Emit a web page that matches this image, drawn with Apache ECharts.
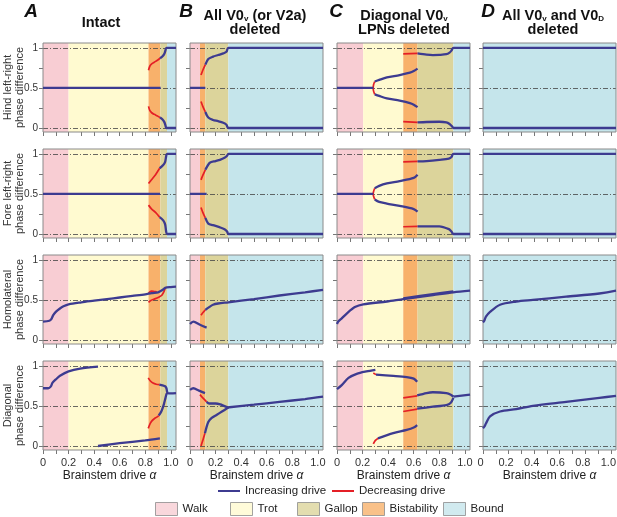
<!DOCTYPE html>
<html>
<head>
<meta charset="utf-8">
<script src="https://cdn.jsdelivr.net/npm/echarts@6/dist/echarts.min.js"></script>
<style>
  html, body { margin: 0; padding: 0; background: #fff; }
  #chart { width: 617px; height: 517px; }
</style>
</head>
<body>
<div id="chart"></div>
<script>
// axis ticks / labels
const xTicks = [0, 0.1, 0.2, 0.3, 0.4, 0.5, 0.6, 0.7, 0.8, 0.9, 1.0];
const xLabels = [0, 0.2, 0.4, 0.6, 0.8, 1.0];
const yTicks = [0, 0.25, 0.5, 0.75, 1];
const yLabels = [0, 0.5, 1];
const refLines = [0, 0.5, 1];

// gait regions
const gaitNames = ['Walk', 'Trot', 'Gallop', 'Bistability', 'Bound'];
const gaitColors = ['#f8cdd3', '#fffad0', '#dcd49b', '#f8b16b', '#c5e5eb'];

const bandsIntact = [['Walk', 0, 0.2], ['Trot', 0.2, 0.825], ['Bistability', 0.825, 0.918], ['Gallop', 0.918, 0.97], ['Bound', 0.97, 1.04]];
const bandsV0 = [['Walk', 0, 0.078], ['Bistability', 0.078, 0.12], ['Gallop', 0.12, 0.30], ['Bound', 0.30, 1.04]];
const bandsDiag = [['Walk', 0, 0.205], ['Trot', 0.205, 0.518], ['Bistability', 0.518, 0.63], ['Gallop', 0.63, 0.91], ['Bound', 0.91, 1.04]];
const bandsAll = [['Bound', 0, 1.04]];

// A: intact
const intactHindBlue = [
  [[0, 0.5], [0.92, 0.5]],
  [[0.915, 0.87], [0.935, 0.895], [0.95, 0.93], [0.958, 0.97], [0.965, 1.0], [1.04, 1.0]],
  [[0.915, 0.13], [0.935, 0.105], [0.95, 0.07], [0.958, 0.03], [0.965, 0.0], [1.04, 0.0]]
];
const intactHindRed = [
  [[0.825, 0.72], [0.835, 0.77], [0.85, 0.8], [0.87, 0.82], [0.895, 0.845], [0.915, 0.87]],
  [[0.825, 0.27], [0.835, 0.22], [0.85, 0.19], [0.87, 0.17], [0.895, 0.15], [0.915, 0.13]]
];
const intactForeBlue = [
  [[0, 0.5], [0.915, 0.5]],
  [[0.912, 0.82], [0.94, 0.86], [0.955, 0.9], [0.963, 0.97], [0.97, 1.0], [1.04, 1.0]],
  [[0.912, 0.21], [0.94, 0.17], [0.955, 0.12], [0.963, 0.03], [0.97, 0.0], [1.04, 0.0]]
];
const intactForeRed = [
  [[0.825, 0.63], [0.85, 0.68], [0.88, 0.74], [0.912, 0.82]],
  [[0.825, 0.36], [0.85, 0.31], [0.88, 0.27], [0.912, 0.21]]
];
const intactHomoBlue = [
  [[0, 0.23], [0.05, 0.24], [0.065, 0.26], [0.08, 0.31], [0.1, 0.35], [0.13, 0.39], [0.16, 0.42], [0.2, 0.445],
   [0.3, 0.47], [0.4, 0.49], [0.5, 0.51], [0.6, 0.53], [0.7, 0.55], [0.8, 0.57], [0.85, 0.585], [0.9, 0.595],
   [0.92, 0.61], [0.94, 0.63], [0.955, 0.65], [1.0, 0.66], [1.04, 0.665]]
];
const intactHomoRed = [
  [[0.825, 0.47], [0.84, 0.49], [0.87, 0.51], [0.9, 0.53], [0.93, 0.56], [0.945, 0.6], [0.955, 0.645]],
  [[0.825, 0.58], [0.835, 0.6], [0.85, 0.61], [0.87, 0.605], [0.89, 0.6]]
];
const intactDiagBlue = [
  [[0, 0.72], [0.04, 0.72], [0.06, 0.74], [0.075, 0.79], [0.1, 0.83], [0.133, 0.875], [0.2, 0.93], [0.29, 0.965], [0.43, 0.99]],
  [[0.43, 0.0], [0.6, 0.035], [0.8, 0.07], [0.914, 0.095]],
  [[0.91, 0.765], [0.935, 0.755], [0.955, 0.745], [0.965, 0.72], [0.97, 0.68], [0.975, 0.66], [1.0, 0.655], [1.04, 0.66]],
  [[0.905, 0.38], [0.925, 0.43], [0.945, 0.52], [0.958, 0.6], [0.966, 0.65], [0.972, 0.66]]
];
const intactDiagRed = [
  [[0.823, 0.85], [0.84, 0.81], [0.86, 0.785], [0.885, 0.77], [0.91, 0.765]],
  [[0.823, 0.22], [0.835, 0.27], [0.85, 0.31], [0.87, 0.34], [0.89, 0.36], [0.905, 0.38]]
];

// B: all V0v (or V2a) deleted
const v0HindBlue = [
  [[0, 0.5], [0.12, 0.5]],
  [[0.12, 0.79], [0.143, 0.86], [0.18, 0.89], [0.22, 0.91], [0.26, 0.93], [0.285, 0.95], [0.30, 1.0], [1.04, 1.0]],
  [[0.12, 0.2], [0.143, 0.13], [0.18, 0.1], [0.22, 0.085], [0.26, 0.065], [0.285, 0.04], [0.30, 0.0], [1.04, 0.0]]
];
const v0HindRed = [
  [[0.086, 0.66], [0.1, 0.72], [0.12, 0.79]],
  [[0.086, 0.33], [0.1, 0.27], [0.12, 0.2]]
];
const v0ForeBlue = [
  [[0, 0.5], [0.13, 0.5]],
  [[0.12, 0.8], [0.156, 0.89], [0.2, 0.91], [0.234, 0.925], [0.27, 0.95], [0.29, 0.975], [0.30, 1.0], [1.04, 1.0]],
  [[0.12, 0.2], [0.143, 0.13], [0.18, 0.11], [0.23, 0.085], [0.27, 0.06], [0.29, 0.03], [0.30, 0.0], [1.04, 0.0]]
];
const v0ForeRed = [
  [[0.086, 0.675], [0.1, 0.73], [0.12, 0.8]],
  [[0.086, 0.33], [0.1, 0.27], [0.12, 0.2]]
];
const v0HomoBlue = [
  [[0, 0.2], [0.026, 0.23], [0.078, 0.19], [0.13, 0.155]],
  [[0.12, 0.375], [0.15, 0.41], [0.18, 0.44], [0.22, 0.455], [0.3, 0.47], [0.5, 0.51], [0.7, 0.555], [0.9, 0.595], [1.04, 0.625]]
];
const v0HomoRed = [
  [[0.086, 0.31], [0.1, 0.34], [0.12, 0.375]]
];
const v0DiagBlue = [
  [[0, 0.7], [0.026, 0.72], [0.07, 0.69], [0.117, 0.66]],
  [[0.13, 0.55], [0.15, 0.53], [0.2, 0.53], [0.237, 0.52], [0.265, 0.5], [0.29, 0.485]],
  [[0.117, 0.16], [0.143, 0.3], [0.17, 0.35], [0.21, 0.39], [0.25, 0.43], [0.29, 0.47], [0.30, 0.48]],
  [[0.29, 0.48], [0.5, 0.515], [0.7, 0.55], [0.9, 0.585], [1.04, 0.615]]
];
const v0DiagRed = [
  [[0.078, 0.64], [0.1, 0.6], [0.13, 0.55]],
  [[0.086, 0.0], [0.1, 0.07], [0.117, 0.16]]
];

// C: diagonal V0v LPNs deleted
const diagHindBlue = [
  [[0, 0.5], [0.284, 0.5]],
  [[0.295, 0.58], [0.33, 0.6], [0.39, 0.63], [0.49, 0.66], [0.57, 0.69], [0.6, 0.71], [0.63, 0.74]],
  [[0.295, 0.42], [0.33, 0.4], [0.39, 0.37], [0.49, 0.34], [0.57, 0.31], [0.6, 0.29], [0.63, 0.26]],
  [[0.63, 0.93], [0.7, 0.915], [0.75, 0.91], [0.8, 0.912], [0.855, 0.92], [0.88, 0.94], [0.895, 0.965], [0.91, 1.0], [1.04, 1.0]],
  [[0.63, 0.07], [0.7, 0.075], [0.8, 0.078], [0.855, 0.07], [0.88, 0.05], [0.9, 0.02], [0.91, 0.0], [1.04, 0.0]]
];
const diagHindRed = [
  [[0.295, 0.58], [0.286, 0.54], [0.283, 0.5], [0.286, 0.46], [0.295, 0.42]],
  [[0.518, 0.925], [0.63, 0.93]],
  [[0.518, 0.08], [0.63, 0.07]]
];
const diagForeBlue = [
  [[0, 0.5], [0.284, 0.5]],
  [[0.295, 0.57], [0.33, 0.6], [0.39, 0.63], [0.49, 0.66], [0.6, 0.7], [0.63, 0.74]],
  [[0.295, 0.43], [0.33, 0.4], [0.39, 0.38], [0.49, 0.35], [0.6, 0.31], [0.63, 0.28]],
  [[0.63, 0.905], [0.7, 0.91], [0.8, 0.925], [0.875, 0.94], [0.895, 0.96], [0.91, 1.0], [1.04, 1.0]],
  [[0.63, 0.095], [0.8, 0.095], [0.875, 0.06], [0.895, 0.03], [0.91, 0.0], [1.04, 0.0]]
];
const diagForeRed = [
  [[0.295, 0.57], [0.286, 0.53], [0.283, 0.5], [0.286, 0.47], [0.295, 0.43]],
  [[0.518, 0.9], [0.63, 0.905]],
  [[0.518, 0.09], [0.63, 0.095]]
];
const diagHomoBlue = [
  [[0, 0.2], [0.01, 0.23], [0.037, 0.27], [0.076, 0.33], [0.14, 0.41], [0.205, 0.445], [0.39, 0.48], [0.518, 0.51],
   [0.75, 0.56], [0.91, 0.595], [1.04, 0.615]],
  [[0.518, 0.518], [0.75, 0.572], [0.91, 0.607]]
];
const diagHomoRed = [];
const diagDiagBlue = [
  [[0, 0.71], [0.037, 0.76], [0.09, 0.85], [0.154, 0.9], [0.23, 0.93], [0.3, 0.95]],
  [[0.305, 0.89], [0.44, 0.875], [0.545, 0.86], [0.6, 0.84], [0.627, 0.8]],
  [[0.32, 0.096], [0.44, 0.16], [0.545, 0.2], [0.6, 0.23], [0.627, 0.26]],
  [[0.627, 0.63], [0.7, 0.66], [0.75, 0.67], [0.855, 0.66], [0.89, 0.64], [0.91, 0.615]],
  [[0.627, 0.465], [0.75, 0.49], [0.855, 0.51], [0.89, 0.54], [0.91, 0.6]],
  [[0.91, 0.615], [1.04, 0.64]]
];
const diagDiagRed = [
  [[0.284, 0.91], [0.305, 0.89]],
  [[0.284, 0.025], [0.3, 0.07], [0.32, 0.096]],
  [[0.518, 0.6], [0.627, 0.625]],
  [[0.518, 0.43], [0.627, 0.46]]
];

// D: all V0v and V0d deleted
const allHindBlue = [[[0, 1], [1.04, 1]], [[0, 0], [1.04, 0]]];
const allForeBlue = [[[0, 1], [1.04, 1]], [[0, 0], [1.04, 0]]];
const allHomoBlue = [
  [[0, 0.22], [0.01, 0.24], [0.023, 0.29], [0.055, 0.35], [0.133, 0.44], [0.26, 0.48], [0.39, 0.5], [0.65, 0.54], [0.91, 0.58], [1.04, 0.615]]
];
const allDiagBlue = [
  [[0, 0.22], [0.01, 0.24], [0.023, 0.28], [0.055, 0.37], [0.133, 0.43], [0.26, 0.46], [0.39, 0.5], [0.65, 0.55], [0.91, 0.6], [1.04, 0.625]]
];

const rowNames = ['Hind left-right\nphase difference', 'Fore left-right\nphase difference',
  'Homolateral\nphase difference', 'Diagonal\nphase difference'];

const panels = [
  [0, 0, bandsIntact, intactHindBlue, intactHindRed],
  [0, 1, bandsIntact, intactForeBlue, intactForeRed],
  [0, 2, bandsIntact, intactHomoBlue, intactHomoRed],
  [0, 3, bandsIntact, intactDiagBlue, intactDiagRed],
  [1, 0, bandsV0, v0HindBlue, v0HindRed],
  [1, 1, bandsV0, v0ForeBlue, v0ForeRed],
  [1, 2, bandsV0, v0HomoBlue, v0HomoRed],
  [1, 3, bandsV0, v0DiagBlue, v0DiagRed],
  [2, 0, bandsDiag, diagHindBlue, diagHindRed],
  [2, 1, bandsDiag, diagForeBlue, diagForeRed],
  [2, 2, bandsDiag, diagHomoBlue, diagHomoRed],
  [2, 3, bandsDiag, diagDiagBlue, diagDiagRed],
  [3, 0, bandsAll, allHindBlue, []],
  [3, 1, bandsAll, allForeBlue, []],
  [3, 2, bandsAll, allHomoBlue, []],
  [3, 3, bandsAll, allDiagBlue, []]
];

// layout
const colLeft = [43, 190, 337, 483];
const rowTop = [43, 149, 255, 361];
const plotW = 133, plotH = 89;
const font = '"Liberation Sans", Arial, sans-serif';
const blueColor = '#3d3b90';
const redColor = '#e41f26';

const grids = [], xAxes = [], yAxes = [], series = [];

panels.forEach(function (p, i) {
  const col = p[0], row = p[1];
  grids.push({
    left: colLeft[col], top: rowTop[row], width: plotW, height: plotH,
    outerBoundsMode: 'none', containLabel: false,
    show: true, z: 4, borderColor: '#8a8a8a', borderWidth: 1, backgroundColor: 'rgba(0,0,0,0)'
  });
  const bottom = row === 3;
  xAxes.push({
    type: 'value', gridIndex: i, min: 0, max: 1.04,
    axisLine: { show: false, onZero: false },
    axisTick: { show: true, customValues: xTicks, length: 4, lineStyle: { color: '#777', width: 1 } },
    axisLabel: {
      show: bottom, customValues: xLabels, margin: 7, fontSize: 11, color: '#333', fontFamily: font,
      padding: col === 3 ? [0, 5, 0, 0] : 0,
      formatter: function (v) { return v === 0 ? '0' : v.toFixed(1); }
    },
    splitLine: { show: false },
    name: bottom ? 'Brainstem drive {i|α}' : '',
    nameLocation: 'middle', nameGap: 20,
    nameTextStyle: { fontSize: 12, color: '#222', fontFamily: font,
      rich: { i: { fontSize: 12, fontStyle: 'italic', color: '#222', fontFamily: font } } }
  });
  yAxes.push({
    type: 'value', gridIndex: i, min: -0.05, max: 1.06,
    axisLine: { show: false, onZero: false },
    axisTick: { show: true, customValues: yTicks, length: 4, lineStyle: { color: '#777', width: 1 } },
    axisLabel: {
      show: col === 0, customValues: yLabels, margin: 5, fontSize: 10, color: '#333', fontFamily: font,
      formatter: function (v) { return String(v); }
    },
    splitLine: { show: false }
  });

  // background regions and dash-dot reference lines
  series.push({
    type: 'line', xAxisIndex: i, yAxisIndex: i, data: [], silent: true, z: 1,
    markArea: {
      silent: true, z: 1,
      data: p[2].map(function (b) {
        return [{ xAxis: b[1], itemStyle: { color: gaitColors[gaitNames.indexOf(b[0])], opacity: 1 } }, { xAxis: b[2] }];
      })
    },
    markLine: {
      silent: true, z: 2, symbol: ['none', 'none'], label: { show: false },
      lineStyle: { color: '#444', width: 0.8, type: [5, 2, 1, 2] },
      data: refLines.map(function (v) { return { yAxis: v }; })
    }
  });

  p[4].forEach(function (seg) {
    series.push({
      type: 'line', name: 'Decreasing drive', xAxisIndex: i, yAxisIndex: i, data: seg,
      symbol: 'none', smooth: 0.3, silent: true, z: 5,
      lineStyle: { color: redColor, width: 1.7 }, itemStyle: { color: redColor }
    });
  });
  p[3].forEach(function (seg) {
    series.push({
      type: 'line', name: 'Increasing drive', xAxisIndex: i, yAxisIndex: i, data: seg,
      symbol: 'none', smooth: 0.3, silent: true, z: 6,
      lineStyle: { color: blueColor, width: 2.3 }, itemStyle: { color: blueColor }
    });
  });
});

// dummy series so the gait boxes show in the legend
gaitNames.forEach(function (g, k) {
  series.push({ type: 'scatter', name: g, data: [], xAxisIndex: 0, yAxisIndex: 0, itemStyle: { color: gaitColors[k] } });
});

const graphics = [];
const letters = [['A', 31], ['B', 186], ['C', 336], ['D', 488]];
letters.forEach(function (l) {
  graphics.push({ type: 'text', x: l[1], y: 12, style: {
    text: l[0], font: 'italic bold 19px ' + font, fill: '#111', textAlign: 'center', textVerticalAlign: 'middle' } });
});
const subRich = {
  sub: { fontSize: 8, fontWeight: 'bold', fontFamily: font, fill: '#111', verticalAlign: 'bottom' }
};
const titles = [
  ['Intact', 101],
  ['All V0{sub|v} (or V2a)\ndeleted', 255],
  ['Diagonal V0{sub|v}\nLPNs deleted', 404],
  ['All V0{sub|v} and V0{sub|D}\ndeleted', 553]
];
titles.forEach(function (t) {
  graphics.push({ type: 'text', x: t[1], y: 23, style: {
    text: t[0], font: 'bold 14.5px ' + font, fill: '#111', textAlign: 'center', textVerticalAlign: 'middle',
    lineHeight: 14, rich: subRich } });
});
rowNames.forEach(function (n, r) {
  graphics.push({ type: 'text', x: 14, y: rowTop[r] + plotH / 2, rotation: Math.PI / 2, style: {
    text: n, font: '11px ' + font, fill: '#333', textAlign: 'center', textVerticalAlign: 'middle', lineHeight: 12 } });
});

// legend entries, one component each so they sit where the original puts them
const legendBase = { selectedMode: false, padding: 0, icon: 'rect', itemWidth: 22,
  textStyle: { fontSize: 11.5, color: '#222', fontFamily: font } };
const legends = [
  Object.assign({}, legendBase, { data: ['Increasing drive'], left: 218, top: 485, itemHeight: 2 }),
  Object.assign({}, legendBase, { data: ['Decreasing drive'], left: 332, top: 485, itemHeight: 2 })
];
const gaitLegendLeft = [155, 230, 297, 362, 443];
gaitNames.forEach(function (g, k) {
  legends.push(Object.assign({}, legendBase, {
    data: [g], left: gaitLegendLeft[k], top: 502, itemHeight: 13,
    itemStyle: { borderColor: '#8c8c8c', borderWidth: 1 }
  }));
});

const chart = echarts.init(document.getElementById('chart'), null, { renderer: 'canvas' });
chart.setOption({
  animation: false,
  backgroundColor: '#fff',
  grid: grids,
  xAxis: xAxes,
  yAxis: yAxes,
  legend: legends,
  graphic: graphics,
  series: series
});
</script>
</body>
</html>
